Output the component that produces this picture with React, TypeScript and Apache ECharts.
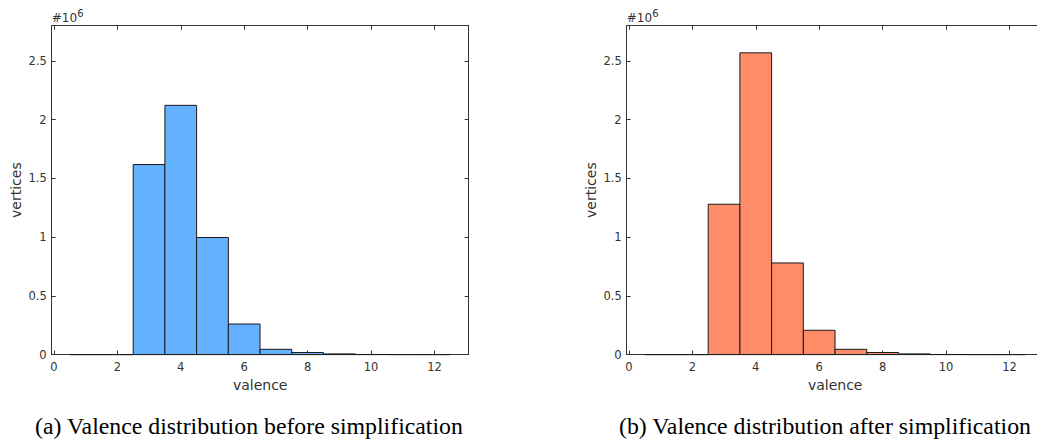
import React, { useEffect, useRef } from "react";
import * as echarts from "echarts";

const valence = [1, 2, 3, 4, 5, 6, 7, 8, 9, 10, 11, 12];
const verticesBefore = [0, 0, 1.618, 2.122, 0.997, 0.26, 0.045, 0.018, 0.006, 0.001, 0.0003, 0.0001];
const verticesAfter = [0, 0, 1.28, 2.569, 0.78, 0.207, 0.045, 0.018, 0.006, 0.001, 0.0003, 0.0001];
const xTicks = [0, 2, 4, 6, 8, 10, 12];
const yTicks = [0, 0.5, 1, 1.5, 2, 2.5];
const captions = [
  "(a) Valence distribution before simplification",
  "(b) Valence distribution after simplification",
];
const barColors = ["#64B2FF", "#FF8C69"];
const seriesData = [verticesBefore, verticesAfter];

const AX = "#333333";
const FONT = "DejaVu Sans";

export default function App() {
  const ref = useRef<HTMLDivElement>(null);
  useEffect(() => {
    if (!ref.current) return;
    const chart = echarts.init(ref.current, undefined, { renderer: "svg" });
    const gridLefts = [51.7, 626.7];
    const gridW = 417;
    const grids = gridLefts.map((l) => ({ left: l, top: 25.7, width: gridW, height: 328.9 }));
    const xAxes: any[] = [];
    const yAxes: any[] = [];
    const series: any[] = [];
    const graphics: any[] = [];
    grids.forEach((_, g) => {
      const common = {
        gridIndex: g,
        type: "value",
        min: -0.07,
        max: 13.08,
        splitLine: { show: false },
        axisLine: { show: true, onZero: false, lineStyle: { color: AX, width: 1 } },
        axisTick: { show: true, inside: true, length: 4, customValues: xTicks, lineStyle: { color: AX } },
      };
      xAxes.push({
        ...common,
        position: "bottom",
        axisLabel: { show: true, customValues: xTicks, fontSize: 11.5, color: AX, margin: 6, fontFamily: FONT },
        name: "valence",
        nameLocation: "middle",
        nameGap: 23,
        nameTextStyle: { fontSize: 14, color: AX, fontFamily: FONT },
      });
      xAxes.push({ ...common, position: "top", axisLabel: { show: false } });
      const ycommon = {
        gridIndex: g,
        type: "value",
        min: 0,
        max: 2.8,
        interval: 0.5,
        splitLine: { show: false },
        axisLine: { show: true, onZero: false, lineStyle: { color: AX, width: 1 } },
        axisTick: { show: true, inside: true, length: 4, customValues: yTicks, lineStyle: { color: AX } },
      };
      yAxes.push({
        ...ycommon,
        position: "left",
        axisLabel: { show: true, customValues: yTicks, fontSize: 11.5, color: AX, margin: 5, fontFamily: FONT },
        name: "vertices",
        nameLocation: "middle",
        nameGap: 29,
        nameTextStyle: { fontSize: 14, color: AX, fontFamily: FONT },
      });
      yAxes.push({ ...ycommon, position: "right", axisLabel: { show: false } });
      const fill = barColors[g];
      series.push({
        type: "custom",
        xAxisIndex: g * 2,
        yAxisIndex: g * 2,
        data: valence.map((v, i) => [v, seriesData[g][i]]),
        encode: { x: 0, y: 1 },
        renderItem: (params: any, api: any) => {
          const x = api.value(0);
          const y = api.value(1);
          const p0 = api.coord([x - 0.5, y]);
          const p1 = api.coord([x + 0.5, 0]);
          return {
            type: "rect",
            shape: { x: p0[0], y: p0[1], width: p1[0] - p0[0], height: p1[1] - p0[1] },
            style: { fill, stroke: "#1a1a1a", lineWidth: 1 },
          };
        },
      });
      const l = gridLefts[g];
      graphics.push({
        type: "text",
        left: l,
        top: 12,
        style: { text: "#10", fontSize: 12, fill: AX, fontFamily: FONT },
      });
      graphics.push({
        type: "text",
        left: l + 25.5,
        top: 8,
        style: { text: "6", fontSize: 10, fill: AX, fontFamily: FONT },
      });
      graphics.push({
        type: "text",
        x: g === 0 ? 249 : 825,
        y: 426,
        style: {
          text: captions[g],
          fontSize: 23.8,
          fill: "#000",
          fontFamily: "Liberation Serif",
          textAlign: "center",
          textVerticalAlign: "middle",
        },
      });
    });
    chart.setOption({
      animation: false,
      backgroundColor: "#ffffff",
      grid: grids,
      xAxis: xAxes,
      yAxis: yAxes,
      series,
      graphic: graphics,
    });
    return () => chart.dispose();
  }, []);
  return (
    <div
      style={{ position: "fixed", left: 0, top: 0, width: 1037, height: 441, overflow: "hidden", background: "#fff" }}
    >
      <div ref={ref} style={{ width: 1070, height: 441 }} />
    </div>
  );
}
